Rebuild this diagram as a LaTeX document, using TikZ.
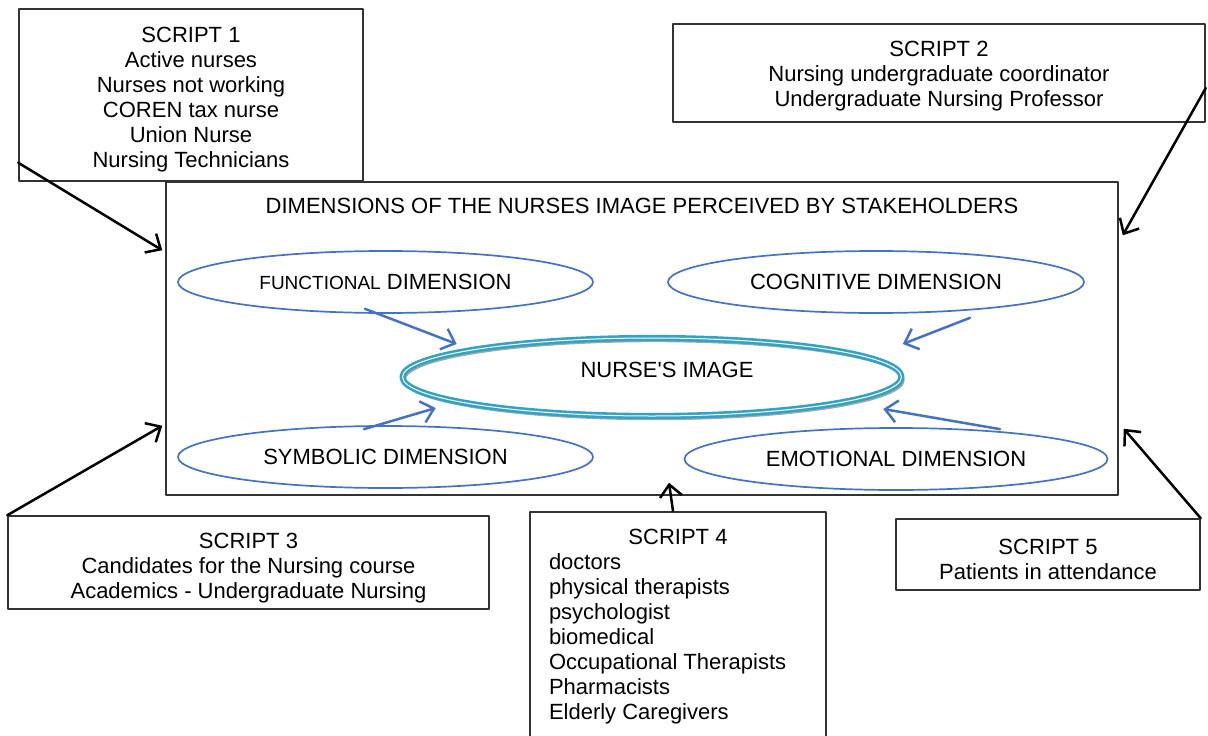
\documentclass[tikz,border=0pt]{standalone}
\usepackage{fontspec}
\setmainfont{Liberation Sans}
\usetikzlibrary{shapes.geometric,arrows.meta}
\definecolor{dimblue}{RGB}{68,114,196}
\definecolor{imgteal}{RGB}{49,163,196}
\begin{document}
\begin{tikzpicture}[x=1pt, y=-1pt, font=\fontsize{22}{25}\selectfont, line join=round, line cap=round,
	>={Straight Barb[length=12pt,width=22pt]},
	box/.style={draw=black!80, line width=1.5pt, align=center, inner sep=0pt},
	dim/.style={ellipse, draw=dimblue, line width=1.7pt, minimum width=415pt, minimum height=62pt, inner sep=0pt},
	link/.style={->, line width=2.5pt},
	feed/.style={->, draw=dimblue, line width=2.5pt}]
		\useasboundingbox (0,0) rectangle (1208,736);
		\node[box, minimum width=952pt, minimum height=313pt] (stake) at (642,338.5) {};
		\node (title) at (642,206) {DIMENSIONS OF THE NURSES IMAGE PERCEIVED BY STAKEHOLDERS};
		\node[box, minimum width=344pt, minimum height=172pt] (s1) at (191,95) {\rule{0pt}{24pt}SCRIPT 1\\Active nurses\\Nurses not working\\COREN tax nurse\\Union Nurse\\Nursing Technicians};
		\node[box, minimum width=532pt, minimum height=98pt] (s2) at (939,73) {\rule{0pt}{22pt}SCRIPT 2\\Nursing undergraduate coordinator\\Undergraduate Nursing Professor};
		\node[box, minimum width=481pt, minimum height=93pt] (s3) at (248.5,562.5) {\rule{0pt}{26pt}SCRIPT 3\\Candidates for the Nursing course\\Academics - Undergraduate Nursing};
		\node[box, inner xsep=19pt, inner ysep=17pt, anchor=north] (s4) at (678,511) {\parbox[c][230pt][t]{258pt}{\centering SCRIPT 4\par\raggedright doctors\\physical therapists\\psychologist\\biomedical\\Occupational Therapists\\Pharmacists\\Elderly Caregivers}};
		\node[box, minimum width=304pt, minimum height=71pt] (s5) at (1048,554.5) {\rule{0pt}{26pt}SCRIPT 5\\Patients in attendance};
		\node[dim] (func) at (385.5,282) {{\fontsize{19}{22}\selectfont FUNCTIONAL} DIMENSION};
		\node[dim, minimum width=416pt] (cogn) at (876,282) {COGNITIVE DIMENSION};
		\node[dim] (symb) at (385.5,457) {SYMBOLIC DIMENSION};
		\node[dim, minimum width=423pt] (emot) at (896,459) {EMOTIONAL DIMENSION};
		\node[ellipse, draw=black!35, line width=2.4pt, minimum width=499pt, minimum height=78pt] (shade) at (654,380) {};
		\node[ellipse, draw=imgteal, double=white, double distance=1pt, line width=2.6pt, minimum width=499pt, minimum height=78pt] (image) at (652,377) {};
		\node (imgtext) at (667,370) {NURSE\textquotesingle S IMAGE};
		\draw[feed] ([xshift=-20.5pt,yshift=5pt]func.south) -- ([xshift=55.5pt,yshift=33pt]image.west);
		\draw[feed] ([xshift=-21.5pt,yshift=-4pt]symb.north) -- ([xshift=34.5pt,yshift=-31pt]image.west);
		\draw[feed] ([xshift=94pt,yshift=-4pt]cogn.south) -- ([yshift=33pt]image.east);
		\draw[feed] ([xshift=104pt,yshift=-2pt]emot.north) -- ([xshift=-19.5pt,yshift=-32pt]image.east);
		\draw[link] ([yshift=19pt]s1.south west) -- ([xshift=-3pt,yshift=-69pt]stake.north west);
		\draw[link] ([yshift=-15pt]s2.east) -- ([xshift=4pt,yshift=-54pt]stake.north east);
		\draw[link] (s3.north west) -- ([xshift=-3pt,yshift=70pt]stake.south west);
		\draw[link] ([xshift=-5pt]s4.north) -- ([xshift=27pt,yshift=13pt]stake.south);
		\draw[link] (s5.north east) -- ([xshift=5pt,yshift=67pt]stake.south east);
\end{tikzpicture}
\end{document}
